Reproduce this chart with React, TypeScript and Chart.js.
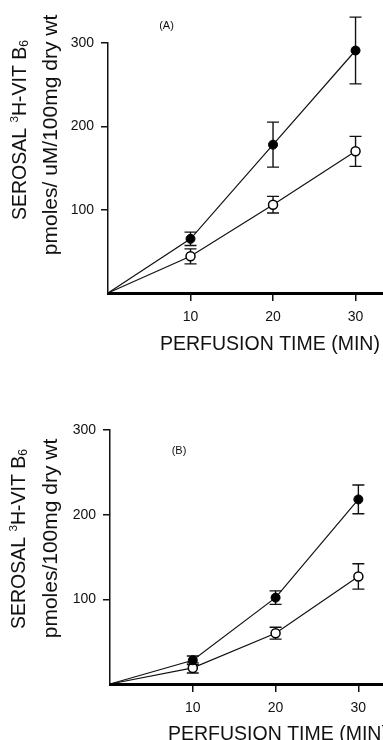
import React, { useEffect, useRef } from "react";
import { Chart, registerables } from "chart.js";

Chart.register(...registerables);

// ---------- data ----------
const times = [0, 10, 20, 30];
const xTickValues = [10, 20, 30];
const yTickValues = [100, 200, 300];

const aFilled = [0, 65, 178, 291];
const aFilledErr = [0, 8, 27, 40];
const aOpen = [0, 44, 106, 170];
const aOpenErr = [0, 9, 10, 18];

const bFilled = [0, 28, 102, 218];
const bFilledErr = [0, 5, 8, 17];
const bOpen = [0, 19, 60, 127];
const bOpenErr = [0, 6, 7, 15];

const xTitle = "PERFUSION TIME (MIN)";
const yTitleA2 = "pmoles/ uM/100mg dry wt";
const yTitleB2 = "pmoles/100mg dry wt";
const panelLabels = ["(A)", "(B)"];

const FAMILY = "'Liberation Sans', Arial, Helvetica, sans-serif";
const INK = "#111";

type Seg = { t: string; size: number; dy: number };

function drawSegs(ctx: CanvasRenderingContext2D, segs: Seg[], cx: number, cy: number, baseOff: number, rotate: boolean, align: "center" | "left") {
  ctx.save();
  ctx.translate(cx, cy);
  if (rotate) ctx.rotate(-Math.PI / 2);
  ctx.fillStyle = INK;
  ctx.textBaseline = "alphabetic";
  ctx.textAlign = "left";
  let total = 0;
  const widths: number[] = [];
  for (const s of segs) {
    ctx.font = `${s.size}px ${FAMILY}`;
    const w = ctx.measureText(s.t).width;
    widths.push(w);
    total += w;
  }
  let x = align === "center" ? -total / 2 : 0;
  segs.forEach((s, i) => {
    ctx.font = `${s.size}px ${FAMILY}`;
    ctx.fillText(s.t, x, baseOff + s.dy);
    x += widths[i];
  });
  ctx.restore();
}

function line1Segs(size: number): Seg[] {
  return [
    { t: "SEROSAL ", size, dy: 0 },
    { t: "3", size: size * 0.6, dy: -size * 0.42 },
    { t: "H-VIT B", size, dy: 0 },
    { t: "6", size: size * 0.62, dy: size * 0.12 },
  ];
}

type PanelCfg = {
  filled: number[];
  filledErr: number[];
  open: number[];
  openErr: number[];
  yTitle2: string;
  label: string;
  padTop: number;
  xAxisH: number;
  yAxisW: number;
  xMax: number;
  xTitleLeft: number;
  xTitleBase: number;
  y1: [number, number];
  y2: [number, number];
  labelPos: [number, number];
};

const errPlugin = {
  id: "errbars",
  beforeDatasetsDraw(chart: any) {
    const ctx = chart.ctx as CanvasRenderingContext2D;
    const xs = chart.scales.x;
    const ys = chart.scales.y;
    ctx.save();
    ctx.strokeStyle = "#111";
    ctx.lineWidth = 1.4;
    chart.data.datasets.forEach((ds: any) => {
      const errs: number[] = ds.errs;
      ds.data.forEach((p: any, i: number) => {
        const e = errs[i];
        if (!e) return;
        const px = xs.getPixelForValue(p.x);
        const top = ys.getPixelForValue(p.y + e);
        const bot = ys.getPixelForValue(p.y - e);
        ctx.beginPath();
        ctx.moveTo(px, top);
        ctx.lineTo(px, bot);
        ctx.moveTo(px - 6, top);
        ctx.lineTo(px + 6, top);
        ctx.moveTo(px - 6, bot);
        ctx.lineTo(px + 6, bot);
        ctx.stroke();
      });
    });
    ctx.restore();
  },
};

function makeTextPlugin(cfg: PanelCfg) {
  return {
    id: "texts",
    afterDraw(chart: any) {
      const ctx = chart.ctx as CanvasRenderingContext2D;
      // extend the heavy x-axis line to the right edge
      const ys = chart.scales.y;
      const y0 = ys.getPixelForValue(0);
      ctx.save();
      ctx.strokeStyle = "#000";
      ctx.lineWidth = 3;
      ctx.beginPath();
      ctx.moveTo(chart.chartArea.left, y0 + 0.5);
      ctx.lineTo(chart.width, y0 + 0.5);
      ctx.stroke();
      ctx.restore();

      const s1 = 19.5;
      const s2 = 21;
      drawSegs(ctx, line1Segs(s1), cfg.y1[0], cfg.y1[1], s1 * 0.358, true, "center");
      drawSegs(ctx, [{ t: cfg.yTitle2, size: s2, dy: 0 }], cfg.y2[0], cfg.y2[1], s2 * 0.26, true, "center");
      drawSegs(ctx, [{ t: xTitle, size: 19.5, dy: 0 }], cfg.xTitleLeft, cfg.xTitleBase, 0, false, "left");
      drawSegs(ctx, [{ t: cfg.label, size: 11, dy: 0 }], cfg.labelPos[0], cfg.labelPos[1], 4, false, "center");
    },
  };
}

function Panel({ cfg }: { cfg: PanelCfg }) {
  const ref = useRef<HTMLCanvasElement>(null);
  useEffect(() => {
    if (!ref.current) return;
    const radii = times.map((t) => (t === 0 ? 0 : 4.5));
    const chart = new Chart(ref.current, {
      type: "line",
      data: {
        datasets: [
          {
            label: "filled",
            data: times.map((t, i) => ({ x: t, y: cfg.filled[i] })),
            errs: cfg.filledErr,
            borderColor: "#111",
            borderWidth: 1.2,
            pointRadius: radii,
            pointBackgroundColor: "#000",
            pointBorderColor: "#000",
            pointBorderWidth: 1,
            tension: 0,
            clip: false,
          } as any,
          {
            label: "open",
            data: times.map((t, i) => ({ x: t, y: cfg.open[i] })),
            errs: cfg.openErr,
            borderColor: "#111",
            borderWidth: 1.2,
            pointRadius: radii,
            pointBackgroundColor: "#fff",
            pointBorderColor: "#000",
            pointBorderWidth: 1.5,
            tension: 0,
            clip: false,
          } as any,
        ],
      },
      options: {
        animation: false,
        responsive: false,
        maintainAspectRatio: false,
        layout: { padding: { top: cfg.padTop, left: 0, right: 0, bottom: 0 } },
        plugins: { legend: { display: false }, tooltip: { enabled: false } },
        scales: {
          x: {
            type: "linear",
            min: 0,
            max: cfg.xMax,
            afterBuildTicks: (s: any) => {
              s.ticks = xTickValues.map((v) => ({ value: v }));
            },
            afterFit: (s: any) => {
              s.height = cfg.xAxisH;
            },
            grid: { drawOnChartArea: false, drawTicks: true, tickLength: 8, color: "#111", lineWidth: 1.5 },
            border: { display: true, color: "#000", width: 3 },
            ticks: { color: INK, font: { family: FAMILY, size: 14 }, padding: 8, maxRotation: 0, autoSkip: false },
          },
          y: {
            type: "linear",
            min: 0,
            max: 300,
            afterBuildTicks: (s: any) => {
              s.ticks = yTickValues.map((v) => ({ value: v }));
            },
            afterFit: (s: any) => {
              s.width = cfg.yAxisW;
            },
            grid: { drawOnChartArea: false, drawTicks: true, tickLength: 7, color: "#111", lineWidth: 1.5 },
            border: { display: true, color: "#111", width: 1.5 },
            ticks: { color: INK, font: { family: FAMILY, size: 14 }, padding: 7, autoSkip: false },
          },
        },
      },
      plugins: [errPlugin, makeTextPlugin(cfg)],
    } as any);
    return () => chart.destroy();
  }, [cfg]);
  return <canvas ref={ref} width={383} height={370} style={{ display: "block", width: 383, height: 370 }} />;
}

const cfgA: PanelCfg = {
  filled: aFilled,
  filledErr: aFilledErr,
  open: aOpen,
  openErr: aOpenErr,
  yTitle2: yTitleA2,
  label: panelLabels[0],
  padTop: 43,
  xAxisH: 77,
  yAxisW: 108,
  xMax: 32.6,
  xTitleLeft: 160,
  xTitleBase: 350,
  y1: [19, 130],
  y2: [52, 135],
  labelPos: [166.5, 25],
};

const cfgB: PanelCfg = {
  filled: bFilled,
  filledErr: bFilledErr,
  open: bOpen,
  openErr: bOpenErr,
  yTitle2: yTitleB2,
  label: panelLabels[1],
  padTop: 60,
  xAxisH: 56,
  yAxisW: 110,
  xMax: 32.25,
  xTitleLeft: 168,
  xTitleBase: 369.5,
  y1: [18, 169],
  y2: [52, 168.5],
  labelPos: [179, 80],
};

export default function App() {
  return (
    <div style={{ position: "absolute", left: 0, top: 0, width: 383, height: 740, background: "#fff", overflow: "hidden" }}>
      <Panel cfg={cfgA} />
      <Panel cfg={cfgB} />
    </div>
  );
}
